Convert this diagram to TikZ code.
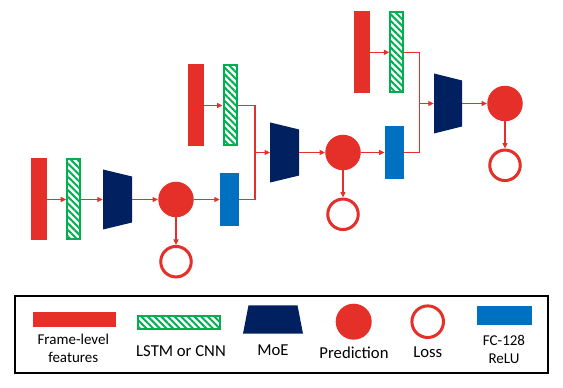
\documentclass[tikz,border=0pt]{standalone}
\usepackage{fontspec}
\setmainfont{Carlito}
\usepackage{tikz}
\usetikzlibrary{arrows.meta, positioning, patterns.meta}
\definecolor{cRed}{HTML}{E5302A}
\definecolor{cGreen}{HTML}{00B050}
\definecolor{cNavy}{HTML}{002060}
\definecolor{cBlue}{HTML}{0070C0}
\tikzset{
  feat/.style={rectangle, fill=cRed, inner sep=0pt,
    minimum width=16pt, minimum height=82pt},
  lstm/.style={rectangle, draw=cGreen, line width=2pt, inner sep=0pt,
    pattern={Lines[angle=-45, distance=4.7pt, line width=2pt]}, pattern color=cGreen,
    minimum width=13pt, minimum height=80pt},
  moe/.style={rectangle, inner sep=0pt, minimum width=29pt, minimum height=60pt,
    path picture={\fill[cNavy] (path picture bounding box.north west)
      -- ([yshift=-#1]path picture bounding box.north east)
      -- ([yshift=#1]path picture bounding box.south east)
      -- (path picture bounding box.south west) -- cycle;}},
  moe/.default=7pt,
  kmoe/.style={rectangle, inner sep=0pt, minimum width=60pt, minimum height=28.4pt,
    path picture={\fill[cNavy] (path picture bounding box.south west)
      -- ([xshift=#1]path picture bounding box.north west)
      -- ([xshift=-#1]path picture bounding box.north east)
      -- (path picture bounding box.south east) -- cycle;}},
  kmoe/.default=5.5pt,
  pred/.style={circle, fill=cRed, inner sep=0pt, minimum size=35.5pt},
  loss/.style={circle, draw=cRed, line width=3pt, inner sep=0pt, minimum size=30.5pt},
  fc/.style={rectangle, fill=cBlue, inner sep=0pt,
    minimum width=19pt, minimum height=53.5pt},
  arrow/.style={-{Triangle[length=5.5pt, width=5pt]}, line width=1.2pt, cRed},
  wire/.style={line width=1.2pt, cRed},
  lgtext/.style={font=\fontsize{16.7}{20}\selectfont, align=center, inner sep=0pt},
  lgtext2/.style={font=\fontsize{15}{17.6}\selectfont, align=center, inner sep=0pt},
}
\begin{document}
\begin{tikzpicture}[x=1pt, y=1pt]
  \useasboundingbox (0,0) rectangle (563,388);

  % First stage
  \node[feat] (f1) at (39,188.5) {};
  \node[lstm] (h1) at (73.7,188.5) {};
  \node[moe] (m1) at (117.5,188.5) {};
  \node[pred] (p1) at (176,188.5) {};
  \node[loss] (o1) at (176,126.3) {};
  \node[fc] (c1) at (229.5,188.5) {};

  % Second stage
  \node[feat] (f2) at (196,282.5) {};
  \node[lstm] (h2) at (230,282.5) {};
  \coordinate (j1) at (255,235.5);
  \node[moe] (m2) at (284.7,235.5) {};
  \node[pred] (p2) at (343,235.5) {};
  \node[loss] (o2) at (343,173.7) {};
  \node[fc] (c2) at (394.3,235.5) {};

  % Third stage
  \node[feat] (f3) at (362,335.7) {};
  \node[lstm] (h3) at (396.8,335.7) {};
  \coordinate (j2) at (419.3,284.5);
  \node[moe, minimum width=28pt] (m3) at (448,284.5) {};
  \node[pred] (p3) at (505,284.5) {};
  \node[loss] (o3) at (505,222.7) {};

  % Arrows
  \draw[arrow] (f1) -- (h1);
  \draw[arrow] (h1) -- (m1);
  \draw[arrow] (m1) -- (p1);
  \draw[arrow] (p1) -- (o1);
  \draw[arrow] (p1) -- (c1);
  \draw[wire] (c1) -| (j1);
  \draw[arrow] (f2) -- (h2);
  \draw[wire] (h2) -| (j1);
  \draw[arrow] (j1) -- (m2);
  \draw[arrow] (m2) -- (p2);
  \draw[arrow] (p2) -- (o2);
  \draw[arrow] (p2) -- (c2);
  \draw[wire] (c2) -| (j2);
  \draw[arrow] (f3) -- (h3);
  \draw[wire] (h3) -| (j2);
  \draw[arrow] (j2) -- (m3);
  \draw[arrow] (m3) -- (p3);
  \draw[arrow] (p3) -- (o3);

  % Legend
  \node[draw, line width=2.5pt, minimum width=533pt, minimum height=77pt] (key) at (281.5,53.5) {};
  \node[feat, minimum width=82.7pt, minimum height=15pt] (kf) at (74.3,68.2) {};
  \node[lstm, minimum width=81.4pt, minimum height=13pt] (kh) at (179,65.2) {};
  \node[kmoe] (km) at (273,68.5) {};
  \node[pred, minimum size=36pt] (kp) at (353.7,66.3) {};
  \node[loss, minimum size=31.6pt] (ko) at (427.7,66.3) {};
  \node[fc, minimum width=54.7pt, minimum height=18.4pt] (kc) at (504.3,72.5) {};

  \node[lgtext2] (tf) at (73.3,39.5) {Frame-level\\features};
  \node[lgtext] (th) at (181,36.7) {LSTM or CNN};
  \node[lgtext] (tm) at (273,37.3) {MoE};
  \node[lgtext] (tp) at (354,35) {Prediction};
  \node[lgtext] (to) at (427.7,35.7) {Loss};
  \node[lgtext2] (tc) at (504,38.3) {FC-128\\ReLU};

\end{tikzpicture}
\end{document}
